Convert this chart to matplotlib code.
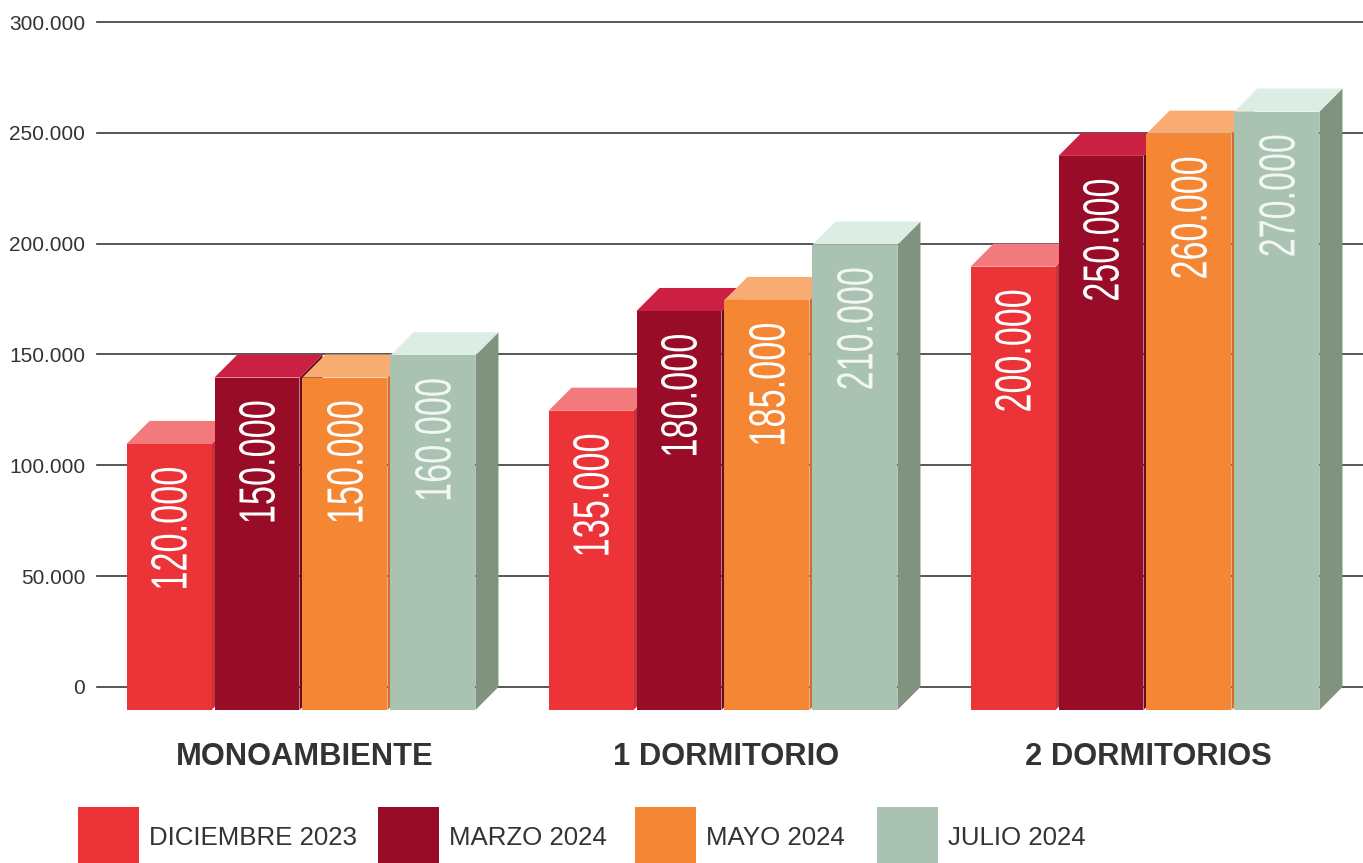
import numpy as np
import matplotlib
matplotlib.use('Agg')
import matplotlib.pyplot as plt
import matplotlib.transforms as mtransforms
from matplotlib.patches import Polygon, Rectangle, PathPatch
from matplotlib.textpath import TextPath
from matplotlib.font_manager import FontProperties

# Data
categories = ['MONOAMBIENTE', '1 DORMITORIO', '2 DORMITORIOS']
series = ['DICIEMBRE 2023', 'MARZO 2024', 'MAYO 2024', 'JULIO 2024']
values = {
    'DICIEMBRE 2023': [120000, 135000, 200000],
    'MARZO 2024': [150000, 180000, 250000],
    'MAYO 2024': [150000, 185000, 260000],
    'JULIO 2024': [160000, 210000, 270000],
}
yticks = [0, 50000, 100000, 150000, 200000, 250000, 300000]

# Colours: front, top, side
front_colors = ['#EC3338', '#990C27', '#F48634', '#AAC2B1']
top_colors = ['#F27A7C', '#CC2042', '#F8AC72', '#DCEEE4']
side_colors = ['#C4353A', '#6E0A1D', '#D06E2E', '#80937F']
label_colors = ['white', 'white', 'white', '#F2F7F3']
text_color = '#333333'

W, H = 1363, 863
fig = plt.figure(figsize=(W / 100, H / 100), dpi=100)

# 3D look
depth_y = 10400          # data units
depth_x = 0.0545         # group units
bar_w = 0.2014
bar_step = 0.2085

ymin, ymax = -depth_y, 300000
ax = fig.add_axes([97 / W, 1 - 710 / H, 1 - 97 / W, (710 - 22) / H])
ax.set_xlim(-0.4834, 2.5166)
ax.set_ylim(ymin, ymax)
for s in ax.spines.values():
    s.set_visible(False)
ax.set_xticks([])
ax.set_yticks(yticks)
ax.set_yticklabels([f'{t:,}'.replace(',', '.') for t in yticks],
                   fontsize=15, color=text_color, family='Liberation Sans')
ax.tick_params(axis='y', length=0, pad=8.6)
for t in yticks:
    ax.axhline(t, color='#3a3a3a', lw=1.2, zorder=0, clip_on=False)

lab_font = FontProperties(family='Liberation Sans')
L_px, H_px, gap_px = 120, 36, 24

blend = mtransforms.blended_transform_factory(ax.transData, fig.transFigure)

for gi, cat in enumerate(categories):
    x0 = gi - 1.5 * bar_step - bar_w / 2
    for si, name in enumerate(series):
        v = values[name][gi]
        x = x0 + si * bar_step
        z = 2 + gi * 10 + si
        # side face
        ax.add_patch(Polygon([(x + bar_w, -depth_y), (x + bar_w + depth_x, 0),
                              (x + bar_w + depth_x, v), (x + bar_w, v - depth_y)],
                             closed=True, fc=side_colors[si], ec='none', zorder=z, clip_on=False))
        # top face
        ax.add_patch(Polygon([(x, v - depth_y), (x + bar_w, v - depth_y),
                              (x + bar_w + depth_x, v), (x + depth_x, v)],
                             closed=True, fc=top_colors[si], ec='none', zorder=z, clip_on=False))
        # front face
        ax.add_patch(Rectangle((x, -depth_y), bar_w, v, fc=front_colors[si], ec='none',
                               zorder=z, clip_on=False))
        # value label (condensed, rotated)
        txt = f'{v:,}'.replace(',', '.')
        tp = TextPath((0, 0), txt, size=1, prop=lab_font)
        bb = tp.get_extents()
        cx, ty = ax.transData.transform((x + bar_w / 2, v - depth_y))
        tr = (mtransforms.Affine2D()
              .translate(-bb.x0, -bb.y0)
              .scale(L_px / bb.width, H_px / bb.height)
              .rotate_deg(90)
              .translate(cx + H_px / 2, ty - gap_px - L_px))
        p = PathPatch(tr.transform_path(tp), fc=label_colors[si], ec='none',
                      transform=mtransforms.IdentityTransform(), zorder=z + 0.5, clip_on=False)
        fig.add_artist(p)
    ax.text(gi + 0.008, 1 - 757 / H, cat, transform=blend, ha='center', va='center',
            fontsize=22.2, fontweight='bold', color=text_color, family='Liberation Sans')

# Legend
leg_x = [78, 378, 635, 877]
for si, name in enumerate(series):
    fig.add_artist(Rectangle((leg_x[si] / W, 0), 61 / W, 56 / H, fc=front_colors[si], ec='none',
                             transform=fig.transFigure))
    fig.text((leg_x[si] + 71) / W, 1 - 838 / H, name, ha='left', va='center', fontsize=18.6,
             color=text_color, family='Liberation Sans')

fig.savefig('out.png', dpi=100)
